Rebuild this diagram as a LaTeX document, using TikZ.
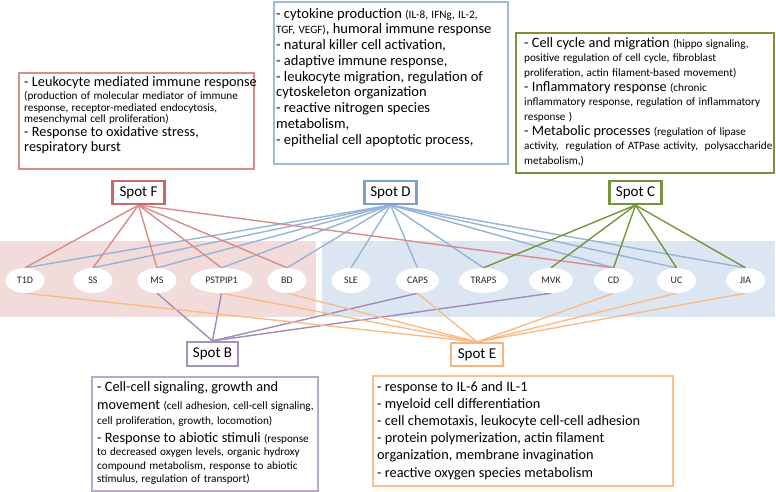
\documentclass[tikz,border=0pt]{standalone}
\usepackage{fontspec}
\setmainfont{Carlito}
\usetikzlibrary{shapes.geometric}
\definecolor{cRed}{HTML}{C0504D}
\definecolor{cBlue}{HTML}{4F81BD}
\definecolor{cGreen}{HTML}{77933C}
\definecolor{cPurple}{HTML}{8064A2}
\definecolor{cOrange}{HTML}{F79646}
\definecolor{bgPink}{HTML}{F2DCDB}
\definecolor{bgBlue}{HTML}{DCE6F2}
\newcommand{\bigF}[1]{\fontsize{14.3}{#1}\selectfont}
\newcommand{\smlF}[1]{\fontsize{11.2}{#1}\selectfont}
\pgfdeclarelayer{backlayer}
\pgfdeclarelayer{midlayer}
\pgfsetlayers{backlayer,midlayer,main}
\begin{document}
\begin{tikzpicture}[x=1pt,y=-1pt,
  dis/.style={ellipse, fill=white, inner sep=0pt, minimum height=25pt, minimum width=#1, font=\fontsize{10}{12}\selectfont, text=black!85},
  dis/.default=39pt,
  spotbox/.style={draw, line width=2.2pt, fill=white, minimum width=52pt, minimum height=23pt, inner sep=0pt, font=\fontsize{15}{18}\selectfont},
  framebox/.style={draw, line width=1.8pt, anchor=north west, inner sep=0pt, fill=white},
  txt/.style={anchor=base west, inner sep=0pt, text width=300pt, align=left},
  link/.style={line width=1.4pt}]
\useasboundingbox (0,0) rectangle (776,491);
% backgrounds
\begin{pgfonlayer}{backlayer}
\fill[bgPink] (0,241) rectangle (316,317);
\fill[bgBlue] (322,241) rectangle (775,317);
\end{pgfonlayer}
% spots
\node[spotbox, draw=cRed!85] (sF) at (138.5,192.5) {Spot F};
\node[spotbox, draw=cBlue!75] (sD) at (390.5,192.5) {Spot D};
\node[spotbox, draw=cGreen] (sC) at (635.5,192.5) {Spot C};
\node[spotbox, draw=cPurple!70, minimum width=51pt, minimum height=24pt] (sB) at (212.5,354) {Spot B};
\node[spotbox, draw=cOrange!70] (sE) at (477,354.5) {Spot E};
% diseases
\node[dis] (T1D) at (25,280.5) {T1D};
\node[dis] (SS) at (93,280.5) {SS};
\node[dis] (MS) at (157,280.5) {MS};
\node[dis=62pt] (PSTPIP1) at (221.5,280.5) {PSTPIP1};
\node[dis] (BD) at (287,280.5) {BD};
\node[dis] (SLE) at (351,280.5) {SLE};
\node[dis=43pt] (CAPS) at (417.5,280.5) {CAPS};
\node[dis=49pt] (TRAPS) at (483.5,280.5) {TRAPS};
\node[dis=44pt] (MVK) at (551,280.5) {MVK};
\node[dis] (CD) at (613.5,280.5) {CD};
\node[dis] (UC) at (676.5,280.5) {UC};
\node[dis] (JIA) at (745.5,280.5) {JIA};
% connectors
\begin{pgfonlayer}{midlayer}
\foreach \t in {T1D,SS,MS,PSTPIP1,BD,SLE,CAPS,TRAPS,CD,UC,JIA}
  \draw[link, cBlue!60] (sD.south) -- (\t.north);
\foreach \t in {T1D,SS,MS,PSTPIP1,BD,CD}
  \draw[link, cRed!65] (sF.south) -- (\t.north);
\foreach \t in {TRAPS,MVK,CD,UC,JIA}
  \draw[link, cGreen] (sC.south) -- (\t.north);
\foreach \t in {MS,PSTPIP1,CAPS,MVK}
  \draw[link, cPurple!75] (sB.north) -- (\t.south);
\foreach \t in {T1D,PSTPIP1,BD,CAPS,CD,UC,JIA}
  \draw[link, cOrange!65] (sE.north) -- (\t.south);
\end{pgfonlayer}
% text frames
\node[framebox, draw=cRed!65, minimum width=235pt, minimum height=96pt] (fF) at (18,72) {};
\node[framebox, draw=cBlue!55, minimum width=234pt, minimum height=162pt] (fD) at (273,1) {};
\node[framebox, draw=cGreen, minimum width=258pt, minimum height=140pt] (fC) at (515,32) {};
\node[framebox, draw=cPurple!55, minimum width=226pt, minimum height=114pt] (fB) at (91,376) {};
\node[framebox, draw=cOrange!60, minimum width=300pt, minimum height=110pt] (fE) at (372,375) {};
% texts
\node[txt] (tF) at (24,86) {\lineskiplimit=-20pt\parindent=0pt
\bigF{15}- Leukocyte mediated immune response\\
\smlF{13}(production of molecular mediator of immune\\
\smlF{12}response, receptor-mediated endocytosis,\\
\smlF{11.5}mesenchymal cell proliferation)\\
\bigF{14}- Response to oxidative stress,\\
\bigF{15}respiratory burst\par};
\node[txt] (tD) at (276,18) {\lineskiplimit=-20pt\parindent=0pt
\fontsize{14.5}{15.75}\selectfont
- cytokine production {\smlF{15.75}(IL-8, IFNg, IL-2,}\\
{\smlF{15.75}TGF, VEGF)}, humoral immune response\\
- natural killer cell activation,\\
- adaptive immune response,\\
- leukocyte migration, regulation of\\
cytoskeleton organization\\
- reactive nitrogen species\\
metabolism,\\
- epithelial cell apoptotic process,\par};
\node[txt] (tC) at (524,47) {\lineskiplimit=-20pt\parindent=0pt
\fontsize{14.3}{14.7}\selectfont
- Cell cycle and migration {\smlF{14.7}(hippo signaling,}\\
{\smlF{14.7}positive regulation of cell cycle, fibroblast}\\
{\smlF{14.7}proliferation, actin filament-based movement)}\\
- Inflammatory response {\smlF{14.7}(chronic}\\
{\smlF{14.7}inflammatory response, regulation of inflammatory}\\
{\smlF{14.7}response )}\\
- Metabolic processes {\smlF{14.7}(regulation of lipase}\\
{\smlF{14.7}activity,\ \ regulation of ATPase activity,\ \ polysaccharide}\\
{\smlF{14.7}metabolism,)}\par};
\node[txt] (tB) at (97,391) {\lineskiplimit=-20pt\parindent=0pt
\fontsize{14.3}{18}\selectfont
- Cell-cell signaling, growth and\\
\fontsize{14.3}{18}\selectfont movement {\smlF{18}(cell adhesion, cell-cell signaling,}\\
\smlF{15}cell proliferation, growth, locomotion)\\
\fontsize{14.3}{18}\selectfont - Response to abiotic stimuli {\smlF{18}(response}\\
\smlF{13.5}to decreased oxygen levels, organic hydroxy\\
\smlF{13.5}compound metabolism, response to abiotic\\
\smlF{13.5}stimulus, regulation of transport)\par};
\node[txt] (tE) at (377,391) {\lineskiplimit=-20pt\parindent=0pt
\fontsize{14.3}{17.2}\selectfont
- response to IL-6 and IL-1\\
- myeloid cell differentiation\\
- cell chemotaxis, leukocyte cell-cell adhesion\\
- protein polymerization, actin filament\\
organization, membrane invagination\\
- reactive oxygen species metabolism\par};
\end{tikzpicture}
\end{document}
